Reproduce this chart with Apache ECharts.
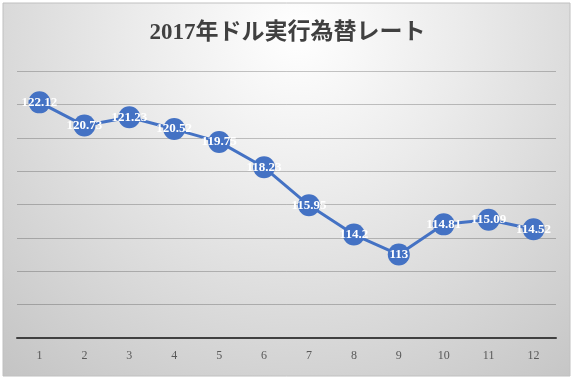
<!DOCTYPE html>
<html><head><meta charset="utf-8">
<script src="https://cdn.jsdelivr.net/npm/echarts@6/dist/echarts.min.js"></script>
<style>html,body{margin:0;padding:0;background:#fff}#c{width:575px;height:379px}</style>
</head><body><div id="c"></div>
<script>
const titleText = '2017年ドル実行為替レート';
const months = ['1','2','3','4','5','6','7','8','9','10','11','12'];
const rates = [122.12, 120.73, 121.23, 120.52, 119.75, 118.23, 115.95, 114.2, 113, 114.81, 115.09, 114.52];
const yMin = 108, yMax = 124, yStep = 2;

const chart = echarts.init(document.getElementById('c'), null, {renderer:'canvas'});
const serif = '"Liberation Serif","DejaVu Serif","Noto Sans CJK JP",serif';
chart.setOption({
  animation:false,
  backgroundColor:'#ffffff',
  graphic:[{
    type:'rect', z:-10, silent:true,
    shape:{x:3,y:3,width:567,height:373},
    style:{
      fill:new echarts.graphic.RadialGradient(0.52,0.08,1.25,[
        {offset:0,color:'#ffffff'},
        {offset:0.35,color:'#ebebeb'},
        {offset:1,color:'#c2c2c2'}
      ]),
      stroke:'#c0c0c0', lineWidth:1
    }
  }],
  title:{
    text:titleText, left:'center', top:17,
    textStyle:{fontFamily:serif, fontSize:23, fontWeight:'bold', color:'#404040'}
  },
  grid:{left:17, right:19, top:71, bottom:41, containLabel:false},
  xAxis:{
    type:'category', data:months, boundaryGap:true,
    axisLine:{lineStyle:{color:'#404040', width:2}},
    axisTick:{show:false},
    axisLabel:{fontFamily:serif, fontSize:12, color:'#595959', margin:12}
  },
  yAxis:{
    type:'value', min:yMin, max:yMax, interval:yStep,
    axisLabel:{show:false}, axisLine:{show:false}, axisTick:{show:false},
    splitLine:{lineStyle:{color:'rgba(0,0,0,0.22)', width:1}}
  },
  series:[{
    type:'line', data:rates,
    symbol:'circle', symbolSize:22,
    lineStyle:{color:'#4472C4', width:3},
    itemStyle:{color:'#4472C4'},
    label:{show:true, position:'inside', color:'#ffffff', fontFamily:serif, fontSize:13, fontWeight:'bold'}
  }]
});
</script></body></html>
